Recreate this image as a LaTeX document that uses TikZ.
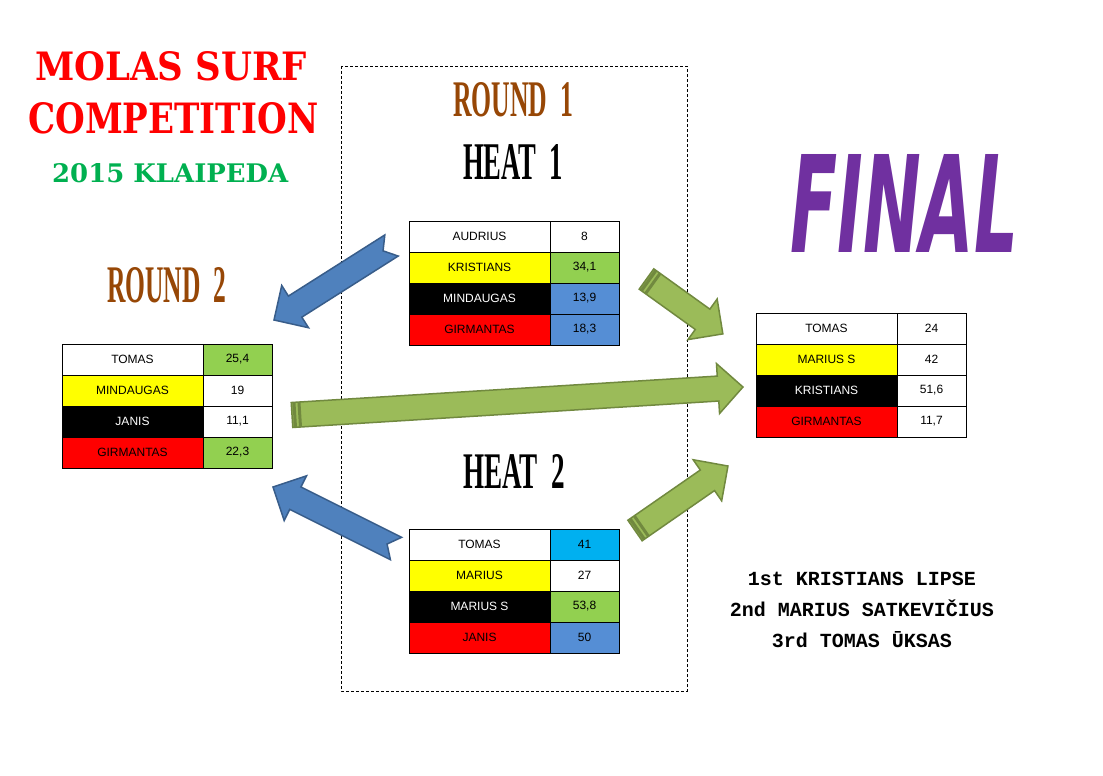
\documentclass[tikz,border=0pt]{standalone}
\usepackage{fontspec}
\usepackage{graphicx}
\usetikzlibrary{positioning,calc}
\setmainfont{Liberation Sans}
\newfontfamily\titlefont{DejaVu Serif}
\newfontfamily\heatfont{Liberation Serif}
\newfontfamily\finalfont{DejaVu Sans}
\newfontfamily\podiumfont{Liberation Mono}

\definecolor{titlered}{HTML}{FF0000}
\definecolor{titlegreen}{HTML}{00B050}
\definecolor{roundbrown}{HTML}{974706}
\definecolor{finalpurple}{HTML}{7030A0}
\definecolor{cellyellow}{HTML}{FFFF00}
\definecolor{cellred}{HTML}{FF0000}
\definecolor{scoregreen}{HTML}{92D050}
\definecolor{scoreblue}{HTML}{558ED5}
\definecolor{scorecyan}{HTML}{00B0F0}
\definecolor{arrowblue}{HTML}{4F81BD}
\definecolor{arrowblueline}{HTML}{385D8A}
\definecolor{arrowgreen}{HTML}{9BBB59}
\definecolor{arrowgreenline}{HTML}{71893F}

\tikzset{
    namecell/.style={draw, line width=1pt, minimum width=141pt, minimum height=31pt,
        inner sep=0pt, outer sep=0pt, font=\fontsize{12}{12}\selectfont},
    scorecell/.style={namecell, minimum width=69pt},
    darkcell/.style={namecell, fill=black, text=white},
    heading/.style={inner sep=0pt, anchor=south west},
    bluearrow/.style={fill=arrowblue, draw=arrowblueline, line width=1.5pt, line join=miter},
    greenarrow/.style={fill=arrowgreen, draw=arrowgreenline, line width=1.5pt, line join=miter},
}

\newcommand{\notchedarrow}[3]{%
    \path[#1] let \p1=(#2), \p2=(#3), \n1={atan2(\y2-\y1,\x2-\x1)}, \n2={veclen(\x2-\x1,\y2-\y1)} in
        {[shift={(\p1)}, rotate=\n1]
        (0,-12.5) -- (\n2-25,-12.5) -- (\n2-25,-25) -- (\n2,0) -- (\n2-25,25) -- (\n2-25,12.5)
        -- (0,12.5) -- (10,0) -- cycle};
}
\newcommand{\stripedarrow}[3]{%
    \path[#1] let \p1=(#2), \p2=(#3), \n1={atan2(\y2-\y1,\x2-\x1)}, \n2={veclen(\x2-\x1,\y2-\y1)} in
        {[shift={(\p1)}, rotate=\n1]
        (0,-12.5) -- (2,-12.5) -- (2,12.5) -- (0,12.5) -- cycle
        (3.5,-12.5) -- (7,-12.5) -- (7,12.5) -- (3.5,12.5) -- cycle
        (8.5,-12.5) -- (\n2-25,-12.5) -- (\n2-25,-25) -- (\n2,0) -- (\n2-25,25) -- (\n2-25,12.5)
        -- (8.5,12.5) -- cycle};
}

\begin{document}
\begin{tikzpicture}[x=1pt, y=-1pt]
    \fill[white] (0,0) rectangle (1103,776);
    \useasboundingbox (0,0) rectangle (1103,776);

    \draw[line width=0.8pt, dash pattern=on 3pt off 2pt] (341,66) rectangle (687,691);

    \node[heading, text=titlered] (title1) at (35,81) {\resizebox{272pt}{29pt}{\titlefont\bfseries MOLAS SURF}};
    \node[heading, text=titlered] (title2) at (28,134) {\resizebox{290pt}{31pt}{\titlefont\bfseries COMPETITION}};
    \node[heading, text=titlegreen] (subtitle) at (52,183) {\resizebox{236pt}{19pt}{\titlefont\bfseries 2015 KLAIPEDA}};

    \node[heading, text=roundbrown] (round1) at (453,117) {\resizebox{120pt}{34pt}{\heatfont\bfseries ROUND\hspace{0.5em}1}};
    \node[heading] (heat1) at (463,180) {\resizebox{100pt}{35pt}{\heatfont\bfseries HEAT\hspace{0.5em}1}};
    \node[heading] (heat2) at (463,489) {\resizebox{102pt}{34pt}{\heatfont\bfseries HEAT\hspace{0.5em}2}};
    \node[heading, text=roundbrown] (round2) at (107,303) {\resizebox{119pt}{35pt}{\heatfont\bfseries ROUND\hspace{0.5em}2}};
    \node[heading, text=finalpurple] (final) at (790,253) {\resizebox{228pt}{98pt}{\finalfont\bfseries\itshape FINAL}};

    \coordinate (heat1out) at (391.5,245.5);
    \coordinate (round2in) at (274,320);
    \coordinate (heat2out) at (396,548.5);
    \coordinate (round2inb) at (273,487);
    \coordinate (heat1fin) at (646.5,279);
    \coordinate (finalin) at (723,334);
    \coordinate (round2out) at (292,415);
    \coordinate (finalinb) at (743,387);
    \coordinate (heat2fin) at (635,530.5);
    \coordinate (finalinc) at (728,466);

    \notchedarrow{bluearrow}{heat1out}{round2in}
    \notchedarrow{bluearrow}{heat2out}{round2inb}
    \stripedarrow{greenarrow}{heat1fin}{finalin}
    \stripedarrow{greenarrow}{round2out}{finalinb}
    \stripedarrow{greenarrow}{heat2fin}{finalinc}

    \node[namecell, anchor=north west] (h1n1) at (409,221) {AUDRIUS};
    \node[scorecell, right=0pt of h1n1] (h1s1) {8};
    \node[namecell, fill=cellyellow, below=0pt of h1n1] (h1n2) {KRISTIANS};
    \node[scorecell, fill=scoregreen, right=0pt of h1n2] (h1s2) {34,1};
    \node[darkcell, below=0pt of h1n2] (h1n3) {MINDAUGAS};
    \node[scorecell, fill=scoreblue, right=0pt of h1n3] (h1s3) {13,9};
    \node[namecell, fill=cellred, below=0pt of h1n3] (h1n4) {GIRMANTAS};
    \node[scorecell, fill=scoreblue, right=0pt of h1n4] (h1s4) {18,3};

    \node[namecell, anchor=north west] (h2n1) at (409,529) {TOMAS};
    \node[scorecell, fill=scorecyan, right=0pt of h2n1] (h2s1) {41};
    \node[namecell, fill=cellyellow, below=0pt of h2n1] (h2n2) {MARIUS};
    \node[scorecell, right=0pt of h2n2] (h2s2) {27};
    \node[darkcell, below=0pt of h2n2] (h2n3) {MARIUS S};
    \node[scorecell, fill=scoregreen, right=0pt of h2n3] (h2s3) {53,8};
    \node[namecell, fill=cellred, below=0pt of h2n3] (h2n4) {JANIS};
    \node[scorecell, fill=scoreblue, right=0pt of h2n4] (h2s4) {50};

    \node[namecell, anchor=north west] (r2n1) at (62,344) {TOMAS};
    \node[scorecell, fill=scoregreen, right=0pt of r2n1] (r2s1) {25,4};
    \node[namecell, fill=cellyellow, below=0pt of r2n1] (r2n2) {MINDAUGAS};
    \node[scorecell, right=0pt of r2n2] (r2s2) {19};
    \node[darkcell, below=0pt of r2n2] (r2n3) {JANIS};
    \node[scorecell, right=0pt of r2n3] (r2s3) {11,1};
    \node[namecell, fill=cellred, below=0pt of r2n3] (r2n4) {GIRMANTAS};
    \node[scorecell, fill=scoregreen, right=0pt of r2n4] (r2s4) {22,3};

    \node[namecell, anchor=north west] (fn1) at (756,313) {TOMAS};
    \node[scorecell, right=0pt of fn1] (fs1) {24};
    \node[namecell, fill=cellyellow, below=0pt of fn1] (fn2) {MARIUS S};
    \node[scorecell, right=0pt of fn2] (fs2) {42};
    \node[darkcell, below=0pt of fn2] (fn3) {KRISTIANS};
    \node[scorecell, right=0pt of fn3] (fs3) {51,6};
    \node[namecell, fill=cellred, below=0pt of fn3] (fn4) {GIRMANTAS};
    \node[scorecell, right=0pt of fn4] (fs4) {11,7};

    \node[align=center, font=\podiumfont\bfseries\fontsize{20}{31}\selectfont] (results) at (862,610)
        {1st KRISTIANS LIPSE\\2nd MARIUS SATKEVIČIUS\\3rd TOMAS ŪKSAS};
\end{tikzpicture}
\end{document}
